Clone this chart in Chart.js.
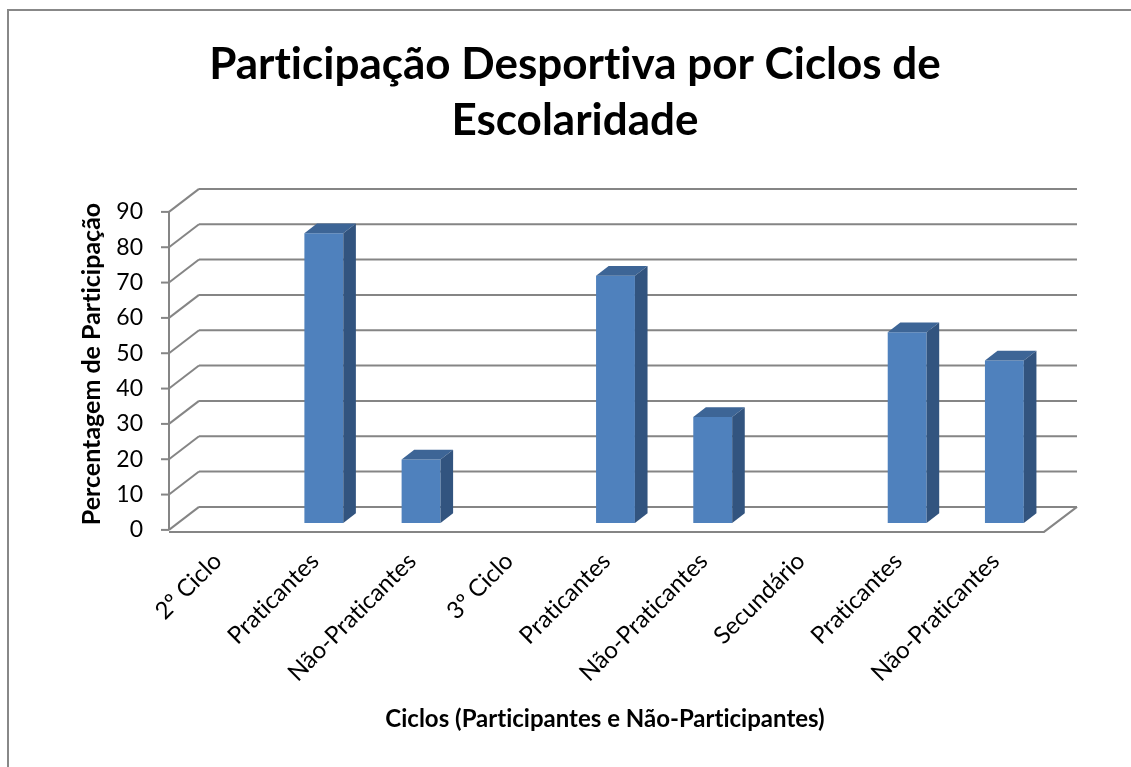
<!DOCTYPE html>
<html><head><meta charset="utf-8">
<script src="https://cdn.jsdelivr.net/npm/chart.js@4.4.1/dist/chart.umd.min.js"></script>
<style>html,body{margin:0;padding:0;background:#fff;overflow:hidden}#wrap{position:relative;width:1131px;height:767px}canvas{font-variant-ligatures:none}</style>
</head><body><div id="wrap"><canvas id="c" width="1131" height="767"></canvas></div>
<script>
// ---- data ----
const categories = ['2º Ciclo','Praticantes','Não-Praticantes','3º Ciclo','Praticantes','Não-Praticantes','Secundário','Praticantes','Não-Praticantes'];
const participacao = [null, 82, 18, null, 70, 30, null, 54, 46];
const yMin = 0, yMax = 90, yStep = 10;
const titleLines = ['Participação Desportiva por Ciclos de','Escolaridade'];
const yTitle = 'Percentagem de Participação';
const xTitle = 'Ciclos (Participantes e Não-Participantes)';

// ---- style ----
const FONT = 'Lato, "Open Sans", sans-serif';
const GRID = '#858585';
const FRONT = '#4F81BD', TOP = '#3D6596', SIDE = '#32547F';
const DEPTH = {x: 30, y: -23};   // floor depth vector
const F = 0.3;                     // bar position within depth
const BD = 0.42;                   // bar depth fraction

const excel3d = {
  id: 'excel3d',
  beforeDraw(chart) {
    try { chart.ctx.textRendering = 'optimizeSpeed'; } catch (e) {}
  },
  beforeDatasetsDraw(chart) {
    const ctx = chart.ctx, ys = chart.scales.y, xs = chart.scales.x;
    const L = xs.left, R = xs.right;
    const fx = -F * DEPTH.x, fy = -F * DEPTH.y, bx = (1 - F) * DEPTH.x, by = (1 - F) * DEPTH.y;
    ctx.save();
    ctx.strokeStyle = GRID; ctx.lineWidth = 2; ctx.lineCap = 'butt';
    const line = (pts) => { ctx.beginPath(); ctx.moveTo(pts[0][0], pts[0][1]); for (let i = 1; i < pts.length; i++) ctx.lineTo(pts[i][0], pts[i][1]); ctx.stroke(); };
    ys.ticks.forEach(t => {
      const yy = ys.getPixelForValue(t.value);
      line([[L + bx, yy + by], [R + bx + 3, yy + by]]);
      line([[L + fx, yy + fy], [L + bx, yy + by]]);
      line([[L + fx - 8, yy + fy], [L + fx, yy + fy]]);
    });
    const y0 = ys.getPixelForValue(yMin), yT = ys.getPixelForValue(yMax);
    line([[L + fx, y0 + fy], [L + fx, yT + fy]]);
    line([[L + fx, y0 + fy + 2], [R + fx, y0 + fy + 2], [R + bx + 3, y0 + by]]);
    ctx.restore();
  },
  afterDatasetsDraw(chart) {
    const ctx = chart.ctx;
    const dx = BD * DEPTH.x, dy = BD * DEPTH.y;
    ctx.save();
    chart.getDatasetMeta(0).data.forEach((el, i) => {
      if (participacao[i] == null) return;
      const p = el.getProps(['x', 'y', 'base', 'width'], true);
      const l = p.x - p.width / 2, r = p.x + p.width / 2;
      ctx.fillStyle = TOP;
      ctx.beginPath(); ctx.moveTo(l, p.y); ctx.lineTo(r, p.y); ctx.lineTo(r + dx, p.y + dy); ctx.lineTo(l + dx, p.y + dy); ctx.closePath(); ctx.fill();
      ctx.fillStyle = SIDE;
      ctx.beginPath(); ctx.moveTo(r, p.y); ctx.lineTo(r + dx, p.y + dy); ctx.lineTo(r + dx, p.base + dy); ctx.lineTo(r, p.base); ctx.closePath(); ctx.fill();
    });
    ctx.restore();
  },
  afterDraw(chart) {
    const ctx = chart.ctx;
    ctx.save();
    // outer frame
    ctx.strokeStyle = '#888888'; ctx.lineWidth = 2;
    ctx.beginPath(); ctx.moveTo(8, 767); ctx.lineTo(8, 10); ctx.lineTo(1131, 10); ctx.stroke();
    ctx.fillStyle = '#000';
    ctx.textAlign = 'center'; ctx.textBaseline = 'alphabetic';
    ctx.font = 'bold 44px ' + FONT;
    ctx.fillText(titleLines[0], 575, 79);
    ctx.fillText(titleLines[1], 575, 135);
    ctx.font = 'bold 24px ' + FONT;
    ctx.textBaseline = 'middle';
    ctx.fillText(xTitle, 605, 719);
    ctx.translate(92, 364); ctx.rotate(-Math.PI / 2);
    ctx.font = 'bold 25px ' + FONT;
    ctx.fillText(yTitle, 0, 0);
    ctx.restore();
  }
};

new Chart(document.getElementById('c'), {
  type: 'bar',
  data: {
    labels: categories,
    datasets: [{
      data: participacao,
      backgroundColor: FRONT,
      borderWidth: 0,
      barPercentage: 0.8,
      categoryPercentage: 0.5
    }]
  },
  options: {
    responsive: false,
    animation: false,
    devicePixelRatio: 1,
    layout: { padding: { left: 0, right: 78, top: 205, bottom: 0 } },
    plugins: { legend: { display: false }, tooltip: { enabled: false }, title: { display: false } },
    scales: {
      x: {
        grid: { display: false, drawTicks: false },
        border: { display: false },
        ticks: {
          autoSkip: false, minRotation: 45, maxRotation: 45,
          color: '#000', font: { family: FONT, size: 24 }, padding: 24, labelOffset: -9
        },
        afterFit(s) { s.height = 244; }
      },
      y: {
        min: yMin, max: yMax,
        grid: { display: false, drawTicks: false },
        border: { display: false },
        ticks: { stepSize: yStep, color: '#000', font: { family: FONT, size: 23 }, padding: 35, labelOffset: 7 },
        afterFit(s) { s.width = 178; }
      }
    }
  },
  plugins: [excel3d]
});
</script>
</body></html>
